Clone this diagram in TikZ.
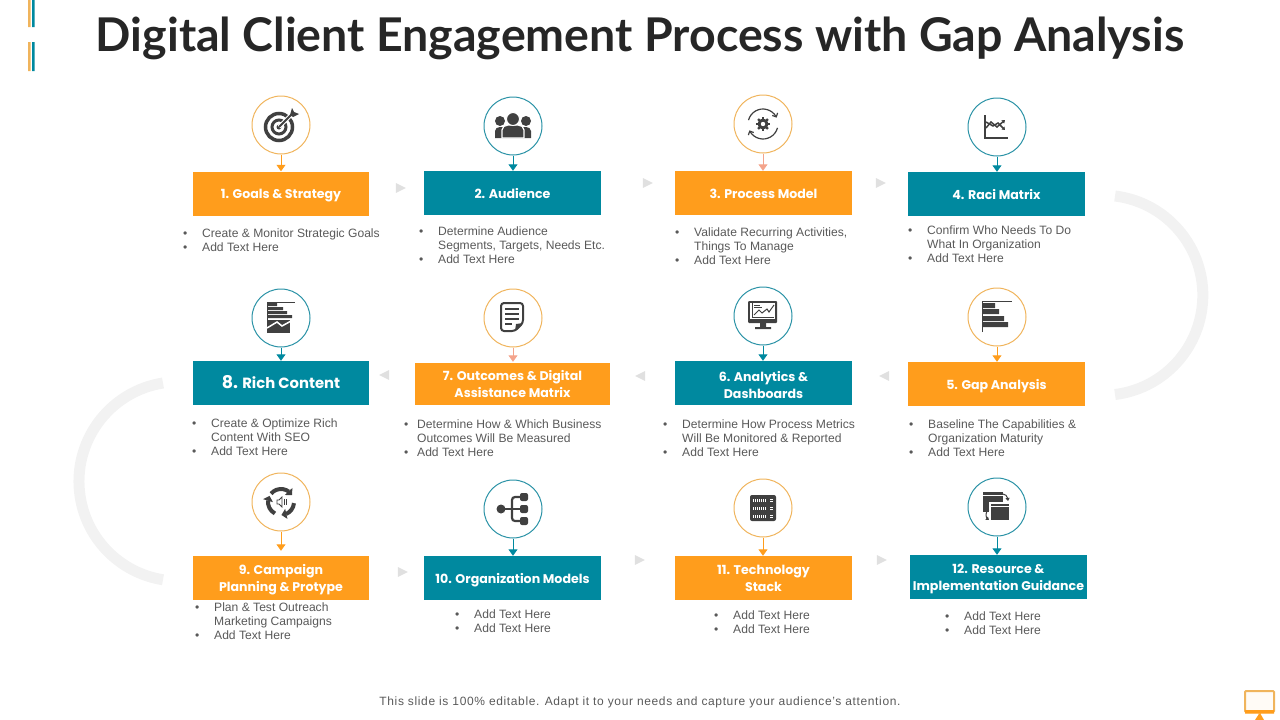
\documentclass[tikz,border=0pt]{standalone}
\usepackage{fontspec}
\setmainfont{Liberation Sans}
\newfontfamily\headfont{Poppins}
\newfontfamily\titlefont{Lato}
\usetikzlibrary{arrows.meta,bending,shapes.geometric}
\definecolor{myorange}{HTML}{FF9D1C}
\definecolor{myteal}{HTML}{00899F}
\definecolor{mysalmon}{HTML}{F4A48C}
\definecolor{ringorange}{HTML}{F0B45C}
\definecolor{ringteal}{HTML}{2A92A6}
\definecolor{mydark}{HTML}{404040}
\definecolor{bodygrey}{HTML}{595959}
\definecolor{archgrey}{HTML}{F2F2F2}
\definecolor{trigrey}{HTML}{E0E0E0}
\newcommand{\bitem}[2][19pt]{\makebox[#1][l]{\textbullet}#2\\}
\newcommand{\bcont}[2][19pt]{\hspace*{#1}#2\\}
\tikzset{
  boxo/.style={fill=myorange,text=white,minimum width=176pt,minimum height=44pt,inner sep=0pt,align=center,
    font=\headfont\bfseries\fontsize{12.6}{17}\selectfont,text height=14pt,text depth=4pt},
  boxt/.style={boxo,fill=myteal},
  twol/.style={text height=30pt,text depth=3.2pt},
  ringo/.style={circle,draw=ringorange,fill=white,line width=1pt,minimum size=58pt,inner sep=0pt},
  ringt/.style={ringo,draw=ringteal},
  bul/.style={anchor=north west,inner sep=0pt,align=left,text=bodygrey,font=\fontsize{12.1}{14}\selectfont},
  trir/.style={isosceles triangle,isosceles triangle apex angle=53,fill=trigrey,minimum height=10pt,minimum width=10pt,inner sep=0pt},
  tril/.style={trir,shape border rotate=180},
  arch/.style={draw=archgrey,line width=11pt},
  ico/.style={fill=mydark,draw=none}
}
\begin{document}
\begin{tikzpicture}[x=1pt,y=-1pt]
  \useasboundingbox (0,0) rectangle (1280,720);
  % top left marks
  \fill[ringorange] (28,0) rectangle (30.5,27) (28,42) rectangle (30.5,71);
  \fill[myteal] (32,0) rectangle (34.5,27) (32,42) rectangle (34.5,71);
  \node (title) at (640,38.5) {\titlefont\bfseries\fontsize{46.5}{50}\selectfont\color[HTML]{262626}Digital Client Engagement Process with Gap Analysis};

  % big arcs
  \draw[arch] (1115,196) arc[start angle=-83,end angle=83,radius=100];
  \draw[arch] (163,383) arc[start angle=261,end angle=99,radius=99.6];

  % circles
  \node (c1)[ringo] at (281,125) {};
  \node (c2)[ringt] at (513,126) {};
  \node (c3)[ringo] at (763,124) {};
  \node (c4)[ringt] at (997,127) {};
  \node (c5)[ringo] at (997,317) {};
  \node (c6)[ringt] at (763,316) {};
  \node (c7)[ringo] at (513,318) {};
  \node (c8)[ringt] at (281,318) {};
  \node (c9)[ringo] at (281,502) {};
  \node (c10)[ringt] at (513,509) {};
  \node (c11)[ringo] at (763,508) {};
  \node (c12)[ringt] at (997,507) {};

  % boxes
  \node (b1)[boxo] at (281,193.5) {1. Goals \& Strategy};
  \node (b2)[boxt,minimum width=177pt] at (512.5,193) {2. Audience};
  \node (b3)[boxo,minimum width=177pt] at (763.5,193) {3. Process Model};
  \node (b4)[boxt,minimum width=177pt] at (996.5,194) {4. Raci Matrix};
  \node (b5)[boxo,minimum width=177pt] at (996.5,384) {5. Gap Analysis};
  \node (b6)[boxt,minimum width=177pt,twol,text height=34pt] at (763.5,383) {6. Analytics \&\\Dashboards};
  \node (b7)[boxo,twol,minimum width=195pt,minimum height=42pt] at (512.5,384) {7. Outcomes \& Digital\\Assistance Matrix};
  \node (b8)[boxt,font=\headfont\bfseries\fontsize{14.8}{17}\selectfont] at (281,383) {{\fontsize{17.5}{20}\selectfont 8.} Rich Content};
  \node (b9)[boxo,twol] at (281,578) {9. Campaign\\Planning \& Protype};
  \node (b10)[boxt,minimum width=177pt] at (512.5,578) {10. Organization Models};
  \node (b11)[boxo,twol,minimum width=177pt] at (763.5,578) {11. Technology\\Stack};
  \node (b12)[boxt,twol,minimum width=177pt] at (998.5,577) {12. Resource \&\\Implementation Guidance};

  % circle to box arrows
  \foreach \from/\to/\col/\cut in {c1/b1/myorange/0,c2/b2/myteal/0,c3/b3/mysalmon/0,c4/b4/myteal/0,
    c5/b5/myorange/0,c6/b6/myteal/0,c7/b7/mysalmon/1,c8/b8/myteal/0,
    c9/b9/myorange/5,c10/b10/myteal/0,c11/b11/myorange/0,c12/b12/myteal/0}
    \draw[-{Triangle[length=6.5pt,width=9pt]},\col,line width=1pt,shorten >=\cut pt] (\from) -- (\from |- \to.north);

  % small triangles
  \node (a12)[trir] at (399,188) {};
  \node (a23)[trir] at (646,183) {};
  \node (a34)[trir] at (879,183) {};
  \node (a56)[tril] at (886,376) {};
  \node (a67)[tril] at (642,376) {};
  \node (a78)[tril] at (386,375) {};
  \node (a910)[trir] at (401,572) {};
  \node (a1011)[trir] at (638,560) {};
  \node (a1112)[trir] at (880,560) {};

  % bullet text
  \node (t1)[bul] at (183,228.5) {\bitem{Create \& Monitor Strategic Goals}\bitem{Add Text Here}};
  \node (t2)[bul] at (419,226.5) {\bitem{Determine Audience}\bcont{Segments, Targets, Needs Etc.}\bitem{Add Text Here}};
  \node (t3)[bul] at (675,227.5) {\bitem{Validate Recurring Activities,}\bcont{Things To Manage}\bitem{Add Text Here}};
  \node (t4)[bul] at (908,225.5) {\bitem{Confirm Who Needs To Do}\bcont{What In Organization}\bitem{Add Text Here}};
  \node (t5)[bul] at (909,419.5) {\bitem{Baseline The Capabilities \&}\bcont{Organization Maturity}\bitem{Add Text Here}};
  \node (t6)[bul] at (663,419.5) {\bitem{Determine How Process Metrics}\bcont{Will Be Monitored \& Reported}\bitem{Add Text Here}};
  \node (t7)[bul] at (404,419.5) {\bitem[13pt]{Determine How \& Which Business}\bcont[13pt]{Outcomes Will Be Measured}\bitem[13pt]{Add Text Here}};
  \node (t8)[bul] at (192,418.5) {\bitem{Create \& Optimize Rich}\bcont{Content With SEO}\bitem{Add Text Here}};
  \node (t9)[bul] at (195,603) {\bitem{Plan \& Test Outreach}\bcont{Marketing Campaigns}\bitem{Add Text Here}};
  \node (t10)[bul] at (455,610) {\bitem{Add Text Here}\bitem{Add Text Here}};
  \node (t11)[bul] at (714,611) {\bitem{Add Text Here}\bitem{Add Text Here}};
  \node (t12)[bul] at (945,612) {\bitem{Add Text Here}\bitem{Add Text Here}};

  % icon 1, target
  \begin{scope}[shift={(c1.center)},mydark]
    \draw[line width=3.5pt] (-2,2) circle[radius=13.5];
    \draw[line width=3pt] (-2,2) circle[radius=7];
    \fill (-2,2) circle[radius=2.5];
    \draw[white,line width=4pt] (-2,2) -- (11,-11);
    \draw[line width=2pt] (-2,2) -- (11,-11);
    \fill (9,-10) -- (11,-17) -- (13,-13) -- (18,-11) -- (12,-8) -- cycle;
  \end{scope}
  % icon 2, people
  \begin{scope}[shift={(c2.center)}]
    \fill[mydark] (-13,-5) circle[radius=5] (13,-5) circle[radius=5];
    \fill[mydark] (-18,12) -- (-18,5) to[out=90,in=180] (-13,1) -- (13,1) to[out=0,in=90] (18,5) -- (18,12) -- cycle;
    \draw[white,line width=1.2pt,fill=mydark] (-11,12) -- (-11,4) to[out=90,in=180] (-5,-1) -- (5,-1) to[out=0,in=90] (11,4) -- (11,12) -- cycle;
    \draw[white,line width=1pt,fill=mydark] (0,-7) circle[radius=6.5];
  \end{scope}
  % icon 3, gear and arrows
  \begin{scope}[shift={(c3.center)},mydark]
    \draw[line width=1.2pt,-{Straight Barb[length=3pt,width=6pt]}] (195:15) arc[start angle=195,end angle=335,radius=15];
    \draw[line width=1.2pt,-{Straight Barb[length=3pt,width=6pt]}] (15:15) arc[start angle=15,end angle=155,radius=15];
    \foreach \ang in {0,45,...,315}
      \draw[line width=2.2pt,rotate=\ang] (0,0) -- (7,0);
    \fill (0,0) circle[radius=5.5];
    \fill[white] (0,0) circle[radius=2.2];
  \end{scope}
  % icon 4, chart
  \begin{scope}[shift={(c4.center)},mydark]
    \draw[line width=1.2pt] (-12,-12) -- (-12,11) -- (11,11);
    \draw[line width=1.5pt,-{Triangle[length=3pt,width=4pt]}] (-11,1) -- (-6,-5) -- (0,0) -- (8,-7);
    \draw[line width=1.5pt,-{Triangle[length=3pt,width=4pt]}] (-11,-5) -- (-4,-1) -- (1,-4) -- (8,3);
  \end{scope}
  % icon 5, bars
  \begin{scope}[shift={(c5.center)}]
    \draw[mydark,line width=1pt] (-15,15) -- (-15,-16) -- (15,-16);
    \fill[ico] (-14,-14) rectangle (-2,-9) (-14,-8) rectangle (2,-3) (-14,-1) rectangle (7,4) (-14,5) rectangle (11,10);
  \end{scope}
  % icon 6, monitor
  \begin{scope}[shift={(c6.center)}]
    \fill[ico,rounded corners=1pt] (-15,-15) rectangle (14,7);
    \fill[white] (-13,-13) rectangle (12,3);
    \draw[mydark,line width=.8pt] (-11,-13) -- (-11,1) -- (11,1);
    \draw[mydark,line width=1pt] (-9,-1) -- (-4,-6) -- (-1,-3) -- (4,-7) -- (6,-4) -- (11,-11);
    \draw[mydark,line width=.8pt] (-9,-11) -- (-3,-11) (-9,-9) -- (-1,-9);
    \fill[ico] (-3,7) rectangle (3,11) (-8,11) rectangle (8,13);
  \end{scope}
  % icon 7, document
  \begin{scope}[shift={(c7.center)}]
    \draw[mydark,line width=2pt,rounded corners=3pt] (-12,-15) -- (10,-15) -- (10,5) -- (2,13) -- (-12,13) -- cycle;
    \draw[mydark,line width=1.5pt] (-8,-9) -- (6,-9) (-8,-4) -- (6,-4) (-8,1) -- (6,1) (-8,6) -- (-1,6);
    \fill[ico] (2,13) -- (3,6) -- (10,5) -- cycle;
  \end{scope}
  % icon 8, bars with area
  \begin{scope}[shift={(c8.center)}]
    \draw[mydark,line width=1pt] (-14,15) -- (-14,-16) -- (14,-16);
    \fill[ico] (-13,-15) rectangle (-4,-12) (-13,-11) rectangle (2,-8) (-13,-7) rectangle (6,-4) (-13,-3) rectangle (11,0);
    \fill[ico] (-13,2) -- (9,2) -- (9,15) -- (-13,15) -- cycle;
    \draw[white,line width=1.5pt] (-14,10) -- (-4,4) -- (1,8) -- (10,3);
  \end{scope}
  % icon 9, round arrows
  \begin{scope}[shift={(c9.center)},mydark]
    \foreach \sa/\ea in {-140/-32,5/88,118/208}
      \draw[line width=4pt,-{Triangle[length=5pt,width=10pt,flex]}] (\sa:13) arc[start angle=\sa,end angle=\ea,radius=13];
    \draw[line width=.8pt] (-4,-2) -- (-2,-2) -- (1,-5) -- (1,5) -- (-2,2) -- (-4,2) -- cycle;
    \draw[line width=.8pt] (3,-3) -- (3,3) (5,-3) -- (5,3);
  \end{scope}
  % icon 10, tree
  \begin{scope}[shift={(c10.center)}]
    \draw[mydark,line width=2.2pt,rounded corners=3pt] (8,-12) -- (-1,-12) -- (-1,12) -- (8,12);
    \draw[mydark,line width=2.2pt] (-12,0) -- (8,0);
    \fill[ico] (-12,0) circle[radius=4.5];
    \fill[ico,rounded corners=2pt] (7,-16) rectangle (15,-8) (7,-4) rectangle (15,4) (7,8) rectangle (15,16);
  \end{scope}
  % icon 11, server
  \begin{scope}[shift={(c11.center)}]
    \fill[ico,rounded corners=2pt] (-13,-13) rectangle (13,13);
    \foreach \yy in {-8,0,8}{
      \draw[white,line width=3pt,dash pattern=on 1pt off 1pt] (-10,\yy) -- (4,\yy);
      \draw[white,line width=1pt] (7,\yy-1) -- (10,\yy-1) (7,\yy+1) -- (10,\yy+1);
    }
  \end{scope}
  % icon 12, windows
  \begin{scope}[shift={(c12.center)}]
    \fill[ico] (-14,-15) rectangle (6,5);
    \draw[white,line width=.6pt] (-14,-12) -- (6,-12);
    \draw[white,line width=1.5pt,fill=mydark] (-7,-4) rectangle (13,14);
    \draw[white,line width=.6pt] (-7,-1) -- (13,-1);
    \draw[mydark,line width=1pt,-{Triangle[length=3pt,width=4pt]}] (6,-13) to[out=0,in=90] (11,-6);
    \draw[mydark,line width=1pt,-{Triangle[length=3pt,width=4pt]}] (-8,3) to[out=180,in=180] (-8,13);
  \end{scope}

  \node (foot) at (640,702) {\fontsize{12}{14}\selectfont\addfontfeature{LetterSpace=5.3}\color{bodygrey}This slide is 100\% editable. Adapt it to your needs and capture your audience's attention.};

  % monitor mark
  \draw[ringorange,line width=2pt,fill=myorange!4,rounded corners=1pt] (1245,691) rectangle (1274,712);
  \fill[myorange] (1245,710) rectangle (1274,713.5) (1255,720) -- (1259.5,713) -- (1260,713) -- (1264,720) -- cycle;
\end{tikzpicture}
\end{document}
